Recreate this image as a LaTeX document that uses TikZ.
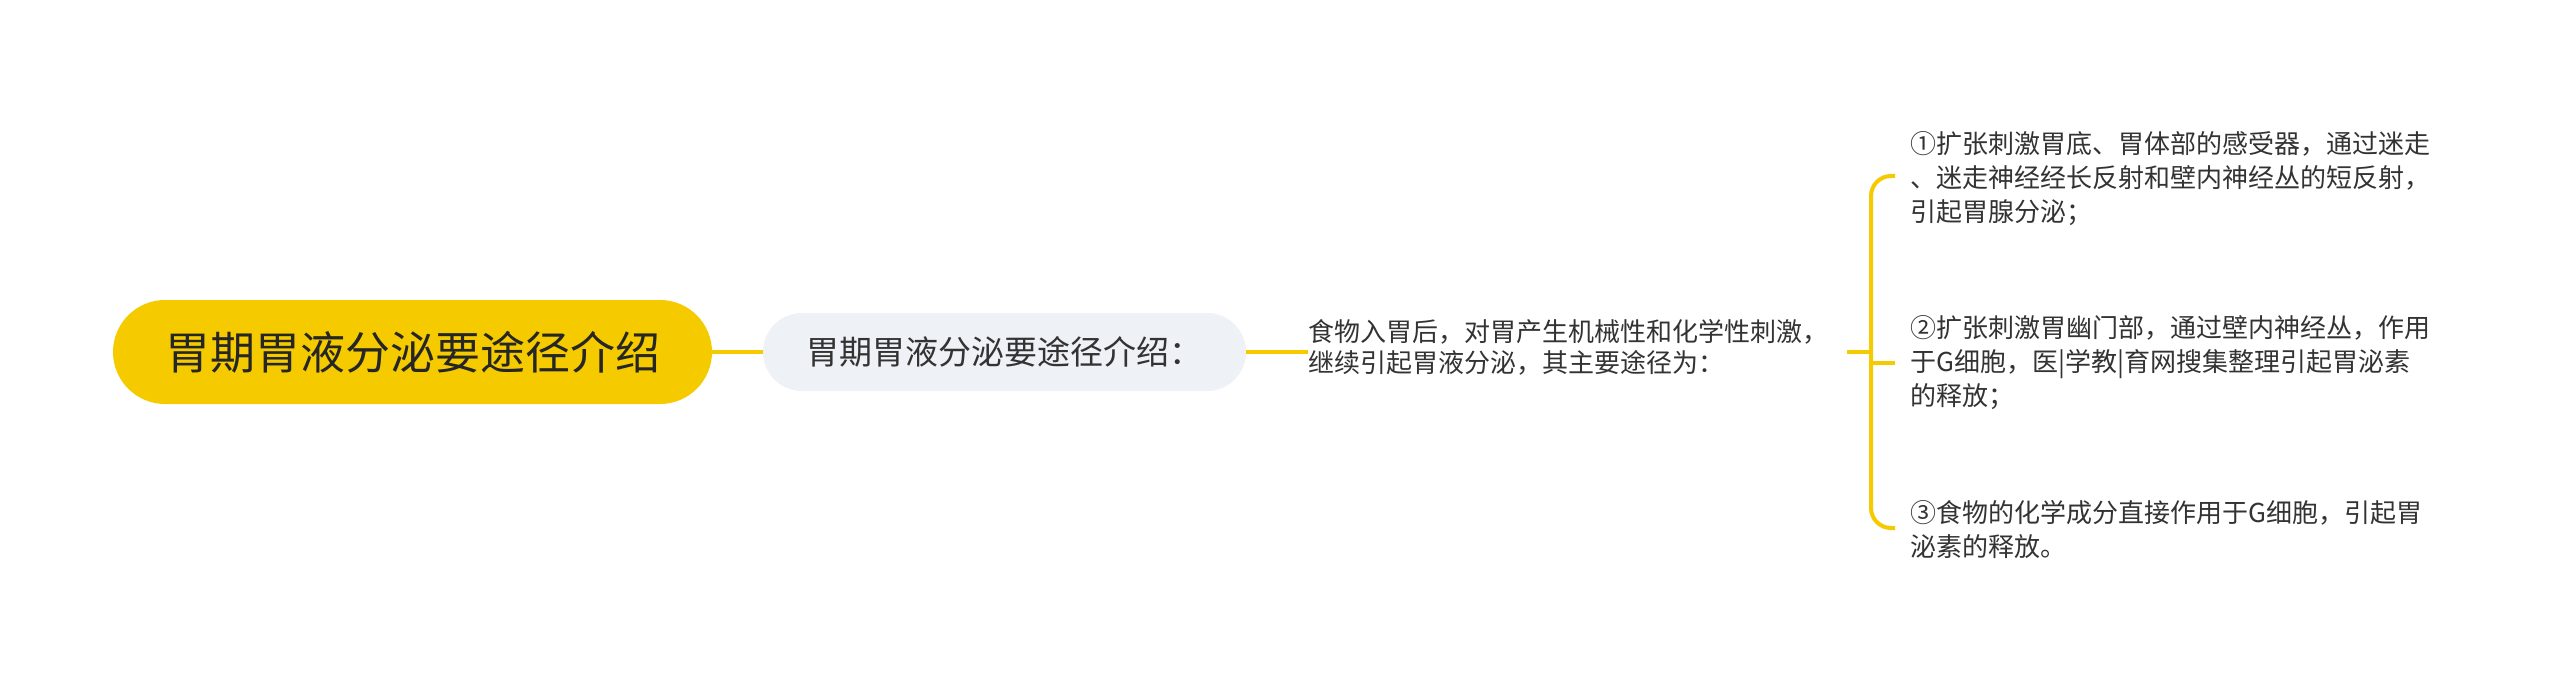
\documentclass[tikz,border=0pt]{standalone}
\usepackage{fontspec}
\setmainfont{Noto Sans CJK SC}
\definecolor{myyellow}{HTML}{F5CB00}
\definecolor{mygray}{HTML}{EEF1F5}
\definecolor{mytext}{HTML}{333333}
\tikzset{
  link/.style={draw=myyellow, line width=4pt},
  rootbox/.style={fill=myyellow, rounded corners=52pt, minimum width=599pt, minimum height=104pt, inner sep=0pt, text=black!85, font=\fontsize{45}{54}\selectfont},
  subbox/.style={fill=mygray, rounded corners=39pt, minimum width=483pt, minimum height=78pt, inner sep=0pt, text=mytext, font=\fontsize{33}{40}\selectfont},
  desctext/.style={inner sep=0pt, align=left, text=mytext, font=\fontsize{26}{31}\selectfont, anchor=west},
  leaftext/.style={inner sep=0pt, align=left, text=mytext, font=\fontsize{26}{34}\selectfont, anchor=west}
}
\begin{document}
\begin{tikzpicture}[x=1pt,y=-1pt]
\useasboundingbox[fill=white] (0,0) rectangle (2560,687);
\node[rootbox] (root) at (412.5,352) {胃期胃液分泌要途径介绍};
\node[subbox] (sub) at (1004.5,352) {胃期胃液分泌要途径介绍：};
\node[desctext] (desc) at (1308,347.5) {食物入胃后，对胃产生机械性和化学性刺激，\\继续引起胃液分泌，其主要途径为：};
\node[leaftext] (b1) at (1910,179) {①扩张刺激胃底、胃体部的感受器，通过迷走\\、迷走神经经长反射和壁内神经丛的短反射，\\引起胃腺分泌；};
\node[leaftext] (b2) at (1910,363) {②扩张刺激胃幽门部，通过壁内神经丛，作用\\于G细胞，医|学教|育网搜集整理引起胃泌素\\的释放；};
\node[leaftext] (b3) at (1910,530) {③食物的化学成分直接作用于G细胞，引起胃\\泌素的释放。};
\coordinate (stub) at (1847,352);
\coordinate (spine) at (1871,352);
\draw[link] (root.east) -- (sub.west);
\draw[link] (sub.east) -- (sub.east -| desc.west);
\draw[link] (stub) -- (spine);
\draw[link, rounded corners=20pt] ([xshift=-15pt,yshift=3pt]b1.west) -| (spine) |- ([xshift=-15pt,yshift=2pt]b3.west);
\draw[link] (spine |- b2.west) -- ([xshift=-15pt]b2.west);
\end{tikzpicture}
\end{document}
